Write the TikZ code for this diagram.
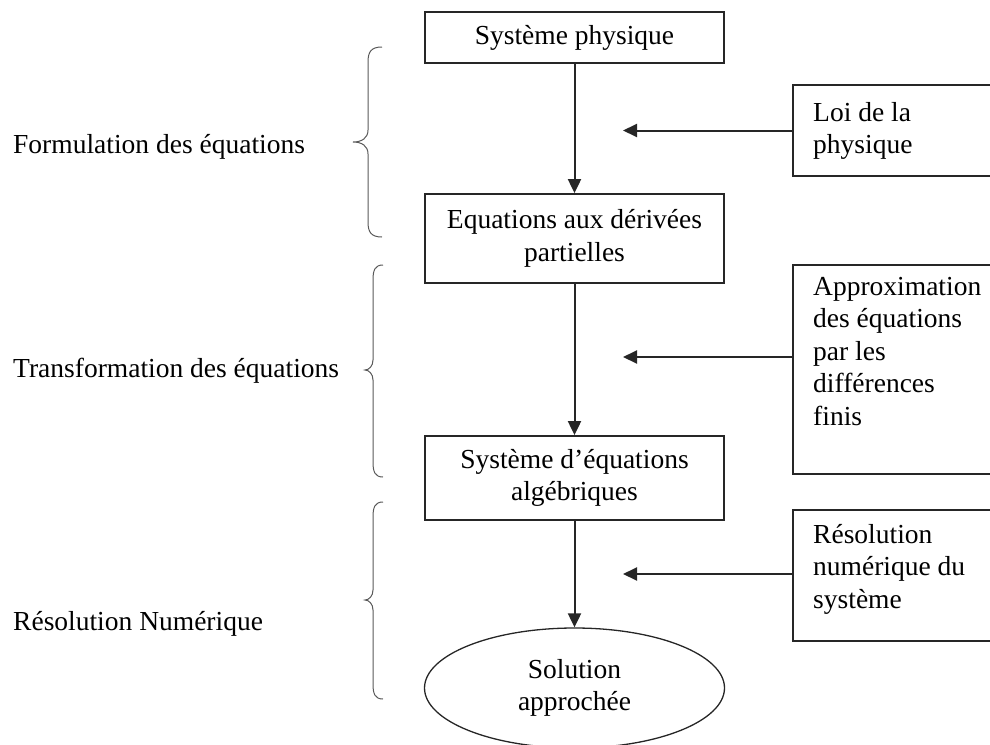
\documentclass[tikz,border=0pt]{standalone}
\usepackage{fontspec}
\setmainfont{Liberation Serif}
\usetikzlibrary{arrows.meta,shapes.geometric}
\begin{document}
\begin{tikzpicture}[x=1pt,y=-1pt,
  every node/.style={font=\fontsize{27.5}{32.5}\selectfont},
  mainbox/.style={draw=black!85, line width=1.8pt, minimum width=299pt, inner sep=0pt, align=center},
  sidebox/.style={draw=black!85, line width=1.8pt, minimum width=210pt, inner sep=0pt},
  sidetext/.style={anchor=north west, inner sep=0pt, align=left},
  flow/.style={draw=black!85, line width=2pt, -{Triangle[length=14pt,width=13pt]}},
  bracestyle/.style={draw=black!65, line width=1pt},
  lbl/.style={anchor=base west, inner sep=0pt}]
\useasboundingbox (0,0) rectangle (990,744);
\clip (0,0) rectangle (990,744);

% main column
\node[mainbox, minimum height=51pt] (sp) at (574.5,37.5) {Système physique};
\node[mainbox, minimum height=89pt] (edp) at (574.5,238.5) {Equations aux dérivées\\partielles};
\node[mainbox, minimum height=84pt] (sea) at (574.5,478) {Système d’équations\\algébriques};
\node[draw=black!85, line width=1.3pt, ellipse, minimum width=300pt, minimum height=120pt, inner sep=0pt, align=center] (sol) at (574.5,688) {Solution\\approchée};

\draw[flow] (sp) -- (edp);
\draw[flow] (edp) -- (sea);
\draw[flow] (sea) -- (sol);

% side boxes
\node[sidebox, minimum height=91pt] (loi) at (898,130.5) {};
\node[sidebox, minimum height=209pt] (app) at (898,369.5) {};
\node[sidebox, minimum height=131pt] (res) at (898,575.5) {};
\node[sidetext] (loit) at (813,102) {Loi de la\\physique};
\node[sidetext] (appt) at (813,277) {Approximation\\des équations\\par les\\différences\\finis};
\node[sidetext] (rest) at (813,524) {Résolution\\numérique du\\système};

\coordinate (t1) at (623,130.5);
\coordinate (t2) at (623,357);
\coordinate (t3) at (623,574);
\draw[flow] (loi.west |- t1) -- (t1);
\draw[flow] (app.west |- t2) -- (t2);
\draw[flow] (res.west |- t3) -- (t3);

% braces
\draw[bracestyle] (382,47) .. controls (371,47) and (368,52) .. (368,62) -- (368,130) .. controls (368,138) and (362,142) .. (353,142) .. controls (362,142) and (368,146) .. (368,154) -- (368,222) .. controls (368,232) and (371,237) .. (382,237);
\draw[bracestyle] (383,265) .. controls (375,265) and (373,270) .. (373,280) -- (373,360) .. controls (373,366) and (369,370) .. (365,370) .. controls (369,370) and (373,374) .. (373,380) -- (373,462) .. controls (373,472) and (375,477) .. (383,477);
\draw[bracestyle] (383,502) .. controls (375,502) and (373,507) .. (373,517) -- (373,590) .. controls (373,596) and (369,600) .. (365,600) .. controls (369,600) and (373,604) .. (373,610) -- (373,684) .. controls (373,694) and (375,699) .. (383,699);

% left labels
\node[lbl] (l1) at (13,153) {Formulation des équations};
\node[lbl] (l2) at (13,377) {Transformation des équations};
\node[lbl] (l3) at (13,630) {Résolution Numérique};
\end{tikzpicture}
\end{document}
